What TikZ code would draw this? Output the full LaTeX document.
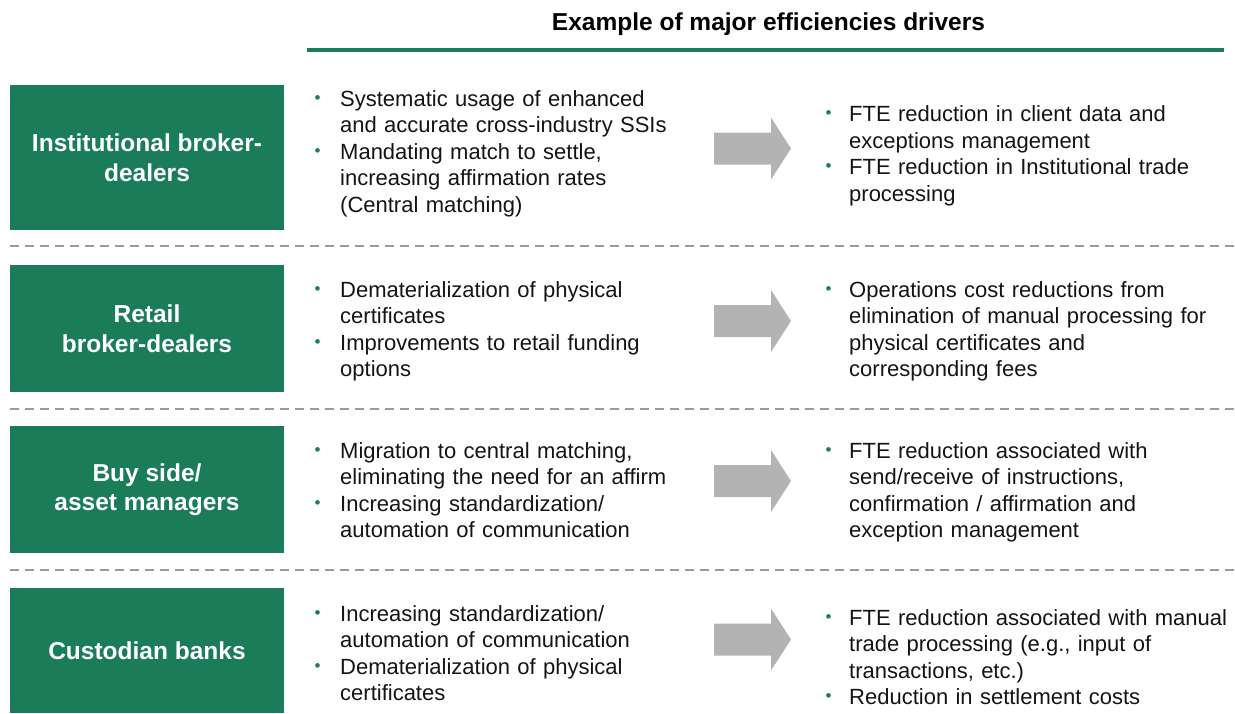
\documentclass[tikz,border=0pt]{standalone}
\usepackage{fontspec}
\setmainfont{Liberation Sans}
\definecolor{boxgreen}{RGB}{26,124,89}
\definecolor{arrowgray}{RGB}{179,179,179}
\definecolor{dashgray}{RGB}{155,155,155}
\definecolor{txt}{RGB}{20,20,20}
\newcommand{\mybul}[2]{\noindent\hangindent=#2\hangafter=1\makebox[#2][l]{\hspace{#1}\raisebox{3.2pt}{\textcolor{boxgreen}{\fontsize{17}{17}\selectfont •}}}\strut}
\newcommand{\lb}{\mybul{4.5pt}{30pt}}
\newcommand{\rb}{\mybul{4.5pt}{28pt}}
\tikzset{
  catbox/.style={fill=boxgreen, text=white, align=center, inner sep=0pt,
    minimum width=274pt, font=\bfseries\fontsize{24.5}{29.5}\selectfont},
  bodytext/.style={anchor=north west, inner sep=0pt, text width=420pt, align=left,
    text=txt, font=\fontsize{22}{26.5}\selectfont},
  sep/.style={dashgray, line width=1.4pt, dash pattern=on 9pt off 6pt},
  bigarrow/.style={fill=arrowgray, draw=none}
}
\newcommand{\grayarrow}[1]{%
  \fill[bigarrow] (714,#1-16) -- (771,#1-16) -- (771,#1-31) -- (791,#1) -- (771,#1+31) -- (771,#1+16) -- (714,#1+16) -- cycle;}
\begin{document}
\begin{tikzpicture}[x=1pt,y=-1pt]
\useasboundingbox (0,0) rectangle (1235,713);
% title
\node[font=\bfseries\fontsize{24.5}{29}\selectfont, anchor=base, inner sep=0pt] (title) at (768.5,30) {Example of major efficiencies drivers};
\draw[boxgreen, line width=4pt] (307,50) -- (1224,50);
% separators
\draw[sep] (10,246) -- (1235,246);
\draw[sep] (10,409) -- (1235,409);
\draw[sep] (10,570) -- (1235,570);
% category boxes
\node[catbox, minimum height=145pt] (b1) at (147,157.5) {Institutional broker-\\dealers};
\node[catbox, minimum height=127pt] (b2) at (147,328.5) {Retail\\broker-dealers};
\node[catbox, minimum height=127pt] (b3) at (147,489.5) {Buy side/\\asset managers};
\node[catbox, minimum height=125pt] (b4) at (147,650.5) {Custodian banks};
% row 1
\node[bodytext] (l1) at (310,106-18.55) {\lb Systematic usage of enhanced\newline and accurate cross-industry SSIs\par\lb Mandating match to settle,\newline increasing affirmation rates\newline (Central matching)\par};
\grayarrow{148.5}
\node[bodytext] (r1) at (821,121.5-18.55) {\rb FTE reduction in client data and\newline exceptions management\par\rb FTE reduction in Institutional trade\newline processing\par};
% row 2
\node[bodytext] (l2) at (310,297-18.55) {\lb Dematerialization of physical\newline certificates\par\lb Improvements to retail funding\newline options\par};
\grayarrow{321}
\node[bodytext] (r2) at (821,297-18.55) {\rb Operations cost reductions from\newline elimination of manual processing for\newline physical certificates and\newline corresponding fees\par};
% row 3
\node[bodytext] (l3) at (310,458-18.55) {\lb Migration to central matching,\newline eliminating the need for an affirm\par\lb Increasing standardization/\newline automation of communication\par};
\grayarrow{481}
\node[bodytext] (r3) at (821,458-18.55) {\rb FTE reduction associated with\newline send/receive of instructions,\newline confirmation / affirmation and\newline exception management\par};
% row 4
\node[bodytext] (l4) at (310,621-18.55) {\lb Increasing standardization/\newline automation of communication\par\lb Dematerialization of physical\newline certificates\par};
\grayarrow{639.5}
\node[bodytext] (r4) at (821,625-18.55) {\rb FTE reduction associated with manual\newline trade processing (e.g., input of\newline transactions, etc.)\par\rb Reduction in settlement costs\par};
\end{tikzpicture}
\end{document}
